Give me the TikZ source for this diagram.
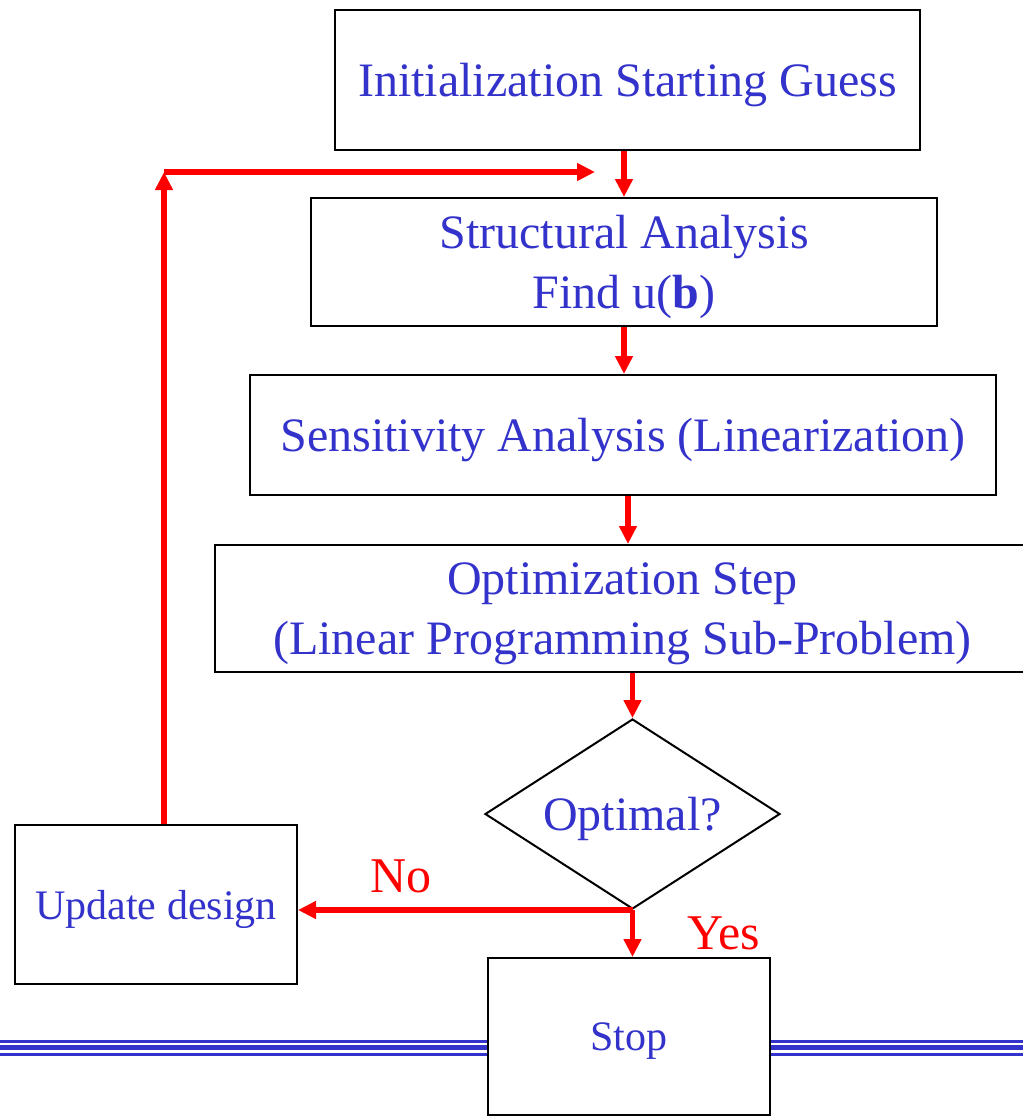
\documentclass[tikz,border=0pt]{standalone}
\usepackage{fontspec}
\setmainfont{Liberation Serif}
\usepackage{xcolor}
\usetikzlibrary{positioning, arrows.meta, shapes.geometric}
\definecolor{txtblue}{HTML}{3333CC}

\begin{document}
\begin{tikzpicture}[x=1pt, y=-1pt,
    box/.style={draw, line width=2pt, fill=white, inner sep=0pt, align=center,
        text=txtblue, text depth=0pt, font=\fontsize{48}{60}\selectfont},
    smallbox/.style={box, font=\fontsize{42}{50}\selectfont},
    flow/.style={draw=red, line width=5.5pt, -{Triangle[length=18pt, width=17pt]}},
    answer/.style={text=red, font=\fontsize{50}{60}\selectfont}]
        \useasboundingbox (0,0) rectangle (1023,1117);
        % blue rule at the foot of the slide
        \draw[txtblue, line width=3pt] (0,1041.3) -- (1023,1041.3);
        \draw[txtblue, line width=5pt] (0,1047.8) -- (1023,1047.8);
        \draw[txtblue, line width=3pt] (0,1054.2) -- (1023,1054.2);
        \node[box, minimum width=585pt, minimum height=140pt] (init) at (627.5,80) {Initialization Starting Guess};
        \node[box, minimum width=626pt, minimum height=128pt] (struct) at (624,262) {Structural Analysis\\Find u(\textbf{b})};
        \node[box, minimum width=746pt, minimum height=120pt] (sens) at (623,435) {Sensitivity Analysis (Linearization)};
        \node[box, minimum width=815pt, minimum height=127pt] (optim) at (622.5,608.5) {Optimization Step\\(Linear Programming Sub-Problem)};
        \node[box, diamond, aspect=2.6, minimum width=295pt, minimum height=190pt] (dec) at (632.5,814) {Optimal?};
        \node[smallbox, minimum width=282pt, minimum height=159pt] (upd) at (156,904.5) {Update design};
        \node[smallbox, minimum width=282pt, minimum height=157pt] (stop) at (629,1036.5) {Stop};
        \coordinate (loop) at (164,172);
        \coordinate (entry) at (595,172);
        \draw[flow] (init.south -| struct.north) -- (struct.north);
        \draw[flow] (struct.south) -- (struct.south |- sens.north);
        \draw[flow] ([xshift=5pt]sens.south) -- ([xshift=5pt]sens.south |- optim.north);
        \draw[flow] (optim.south -| dec.north) -- (dec.north);
        \draw[flow] (dec.south) -- (dec.south |- stop.north);
        \draw[flow] (dec.south) -- (dec.south -| upd.east);
        \draw[flow] (upd.north -| loop) -- (loop);
        \draw[flow] (loop) -- (entry);
        \node[answer] (no) at (401,876) {No};
        \node[answer] (yes) at (724,933) {Yes};
    \end{tikzpicture}
\end{document}
